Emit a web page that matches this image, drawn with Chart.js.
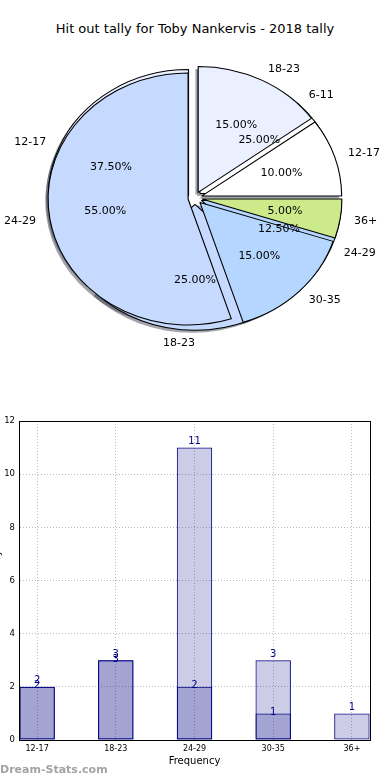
<!DOCTYPE html>
<html>
<head>
<meta charset="utf-8">
<script src="https://cdn.jsdelivr.net/npm/chart.js@4.4.1/dist/chart.umd.min.js"></script>
<style>
    html, body { margin: 0; padding: 0; background: #fff; }
    body { width: 390px; height: 780px; position: relative; overflow: hidden; font-family: 'DejaVu Sans', sans-serif; }
    #title { position: absolute; left: 0; width: 390px; top: 21px; text-align: center; font-size: 13px; color: #000; }
    #pie { position: absolute; left: 1px; top: 48px; }
    #bar { position: absolute; left: -13px; top: 405px; }
    #mark { position: absolute; left: 0; top: 763px; font-size: 11px; font-weight: bold; color: #a3a3a3; }
</style>
</head>
<body>
<div id="title">Hit out tally for Toby Nankervis - 2018 tally</div>
<canvas id="pie" width="388" height="300"></canvas>
<canvas id="bar" width="402" height="375"></canvas>
<div id="mark">Dream-Stats.com</div>
<script>
// pie: two overlapping pies, the second one sits underneath
const pieLabelsA = ['12-17', '18-23', '24-29', '30-35', '36+'];
const pieValuesA = [2, 3, 11, 3, 1];
const pieLabelsB = ['6-11', '12-17', '18-23', '24-29'];
const pieValuesB = [2, 3, 2, 1];
const pieColors = ['#ffffff', '#eaf0ff', '#c6d9ff', '#b5d6ff', '#cdea8b'];

// bar chart
const barCategories = ['12-17', '18-23', '24-29', '30-35', '36+'];
const barTotal = [2, 3, 11, 3, 1];
const barInner = [2, 3, 2, 1, 0];
const yTicks = [0, 2, 4, 6, 8, 10, 12];

Chart.defaults.font.family = "'DejaVu Sans', sans-serif";
Chart.defaults.color = '#000';

const PIE_R = 126;            // vertical radius
const PIE_SX = 140 / 126;     // matplotlib pie is stretched sideways
const EXPLODE = 0.05;

// matplotlib goes counter-clockwise from 3 o'clock, chart.js clockwise,
// so feed the slices reversed and start at 90 degrees
const rev = arr => arr.slice().reverse();

const ellipsePie = {
    id: 'ellipsePie',
    beforeDatasetsDraw(chart) {
        const ctx = chart.ctx;
        const a = chart.chartArea;
        const cx = (a.left + a.right) / 2, cy = (a.top + a.bottom) / 2;
        const off = EXPLODE * PIE_R;
        ctx.save();
        ctx.translate(cx, cy);
        ctx.scale(PIE_SX, 1);
        ctx.translate(-cx, -cy);
        const arcs = [];
        chart.data.datasets.forEach((ds, i) => {
            chart.getDatasetMeta(i).data.forEach(el => {
                const mid = (el.startAngle + el.endAngle) / 2;
                el.x = cx + Math.cos(mid) * off;
                el.y = cy + Math.sin(mid) * off;
                el.innerRadius = 0;
                el.outerRadius = PIE_R;
                arcs.push(el);
            });
        });
        // shadows under everything
        ctx.fillStyle = 'rgba(50,55,70,0.45)';
        arcs.forEach(el => {
            const sx = el.x - 0.02 * PIE_R, sy = el.y + 0.02 * PIE_R;
            ctx.beginPath();
            ctx.moveTo(sx, sy);
            ctx.arc(sx, sy, PIE_R, el.startAngle, el.endAngle);
            ctx.closePath();
            ctx.fill();
        });
    },
    afterDatasetsDraw(chart) {
        chart.ctx.restore();
    },
    afterDraw(chart) {
        const ctx = chart.ctx;
        const a = chart.chartArea;
        const cx = (a.left + a.right) / 2, cy = (a.top + a.bottom) / 2;
        ctx.save();
        ctx.font = "11px 'DejaVu Sans'";
        ctx.fillStyle = '#000';
        ctx.textBaseline = 'middle';
        const drawTexts = (labels, values) => {
            const total = values.reduce((s, v) => s + v, 0);
            let acc = 0;
            values.forEach((v, i) => {
                const th = (acc + v / 2) / total * 2 * Math.PI;
                acc += v;
                const dx = Math.cos(th), dy = -Math.sin(th);
                ctx.textAlign = 'center';
                ctx.fillText((v / total * 100).toFixed(2) + '%',
                    cx + dx * PIE_R * PIE_SX * 0.65, cy + dy * PIE_R * 0.65);
                ctx.textAlign = dx > 0 ? 'left' : 'right';
                ctx.fillText(labels[i],
                    cx + dx * PIE_R * PIE_SX * 1.15, cy + dy * PIE_R * 1.15);
            });
        };
        drawTexts(pieLabelsB, pieValuesB);
        drawTexts(pieLabelsA, pieValuesA);
        ctx.restore();
    }
};

new Chart(document.getElementById('pie'), {
    type: 'pie',
    data: {
        labels: rev(pieLabelsA),
        datasets: [
            {
                data: rev(pieValuesA),
                backgroundColor: rev(pieColors),
                borderColor: '#000',
                borderWidth: 1
            },
            {
                data: rev(pieValuesB),
                backgroundColor: rev(pieColors.slice(0, pieValuesB.length)),
                borderColor: '#000',
                borderWidth: 1
            }
        ]
    },
    options: {
        responsive: false,
        animation: false,
        events: [],
        rotation: 90,
        layout: { padding: 0 },
        plugins: { legend: { display: false }, tooltip: { enabled: false } }
    },
    plugins: [ellipsePie]
});

// bar chart helpers
const barFrame = {
    id: 'barFrame',
    afterDraw(chart) {
        const ctx = chart.ctx;
        const a = chart.chartArea;
        ctx.save();
        ctx.strokeStyle = '#000';
        ctx.lineWidth = 1;
        ctx.strokeRect(Math.round(a.left) + 0.5, Math.round(a.top) + 0.5,
            Math.round(a.right - a.left), Math.round(a.bottom - a.top));
        // value labels
        ctx.font = "10px 'DejaVu Sans'";
        ctx.fillStyle = '#00008b';
        ctx.textAlign = 'center';
        chart.data.datasets.forEach((ds, i) => {
            chart.getDatasetMeta(i).data.forEach((el, j) => {
                const v = ds.data[j].y;
                if (!v) return;
                if (i === 1) {
                    ctx.textBaseline = 'bottom';
                    ctx.fillText(v, el.x, el.y - 1);
                } else {
                    ctx.textBaseline = 'middle';
                    ctx.fillText(v, el.x, el.y - 1);
                }
            });
        });
        ctx.restore();
    }
};

const barStyle = {
    backgroundColor: 'rgba(0,0,128,0.2)',
    borderColor: '#000080',
    borderWidth: 1,
    borderSkipped: false,
    grouped: false,
    categoryPercentage: 1,
    barPercentage: 0.45
};

new Chart(document.getElementById('bar'), {
    type: 'bar',
    data: {
        datasets: [
            { ...barStyle, data: barInner.map((v, i) => ({ x: i, y: v })) },
            { ...barStyle, data: barTotal.map((v, i) => ({ x: i, y: v })) }
        ]
    },
    options: {
        responsive: false,
        animation: false,
        events: [],
        layout: { padding: { top: 16, right: 19, left: 0, bottom: 0 } },
        plugins: { legend: { display: false }, tooltip: { enabled: false } },
        scales: {
            x: {
                type: 'linear',
                min: -0.23,
                max: 4.23,
                offset: false,
                grid: { offset: false, color: '#bcbcbc', drawTicks: false },
                border: { display: true, color: '#000', dash: [1, 2] },
                ticks: {
                    stepSize: 1,
                    includeBounds: false,
                    autoSkip: false,
                    maxRotation: 0,
                    padding: 4,
                    font: { size: 8 },
                    color: '#000',
                    callback: v => barCategories[v] !== undefined ? barCategories[v] : ''
                },
                title: {
                    display: true,
                    text: 'Frequency',
                    font: { size: 10 },
                    color: '#000',
                    padding: { top: 0, bottom: 13 }
                },
                afterFit: s => { s.height = 40; }
            },
            y: {
                min: yTicks[0],
                max: yTicks[yTicks.length - 1],
                grid: { color: '#bcbcbc', drawTicks: false },
                border: { display: true, color: '#000', dash: [1, 2] },
                ticks: {
                    stepSize: 2,
                    padding: 4,
                    font: { size: 8.5 },
                    color: '#000'
                },
                title: {
                    display: true,
                    text: 'Hit Out Tally',
                    font: { size: 10 },
                    color: '#000'
                },
                afterFit: s => { s.width = 32; }
            }
        }
    },
    plugins: [barFrame]
});
</script>
</body>
</html>
